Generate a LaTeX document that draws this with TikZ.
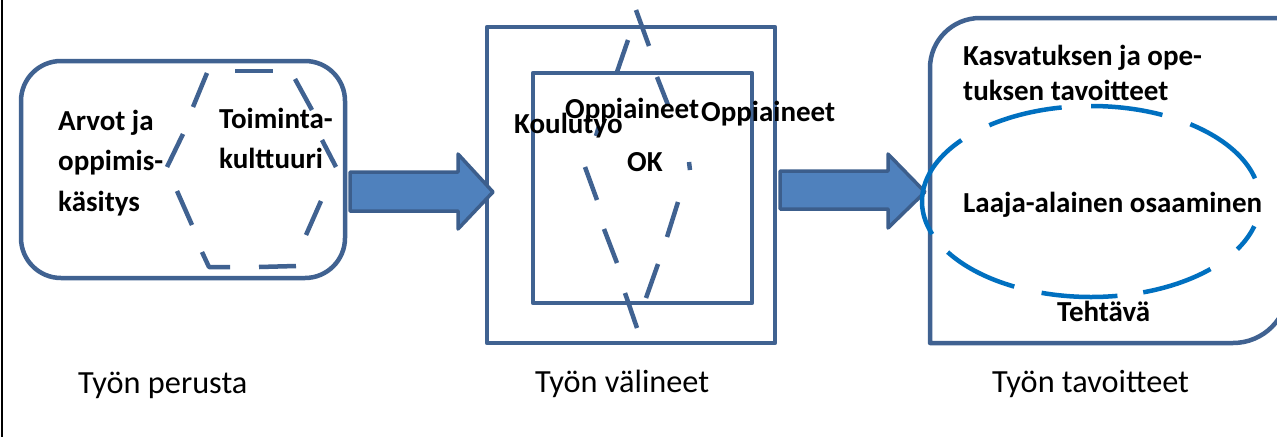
\documentclass[tikz,border=0pt]{standalone}
\usepackage{fontspec}
\setmainfont{Carlito}
\definecolor{boxblue}{RGB}{64,98,145}
\definecolor{arrowfill}{RGB}{79,129,189}
\definecolor{arrowline}{RGB}{60,94,140}
\definecolor{ellblue}{RGB}{0,112,192}
\tikzset{
  boxline/.style={draw=boxblue, line width=4.5pt, line join=round},
  dashseg/.style={draw=boxblue, line width=4.5pt, line cap=butt},
  ellseg/.style={draw=ellblue, line width=4.5pt, line cap=butt, samples=40, smooth},
  blockarrow/.style={fill=arrowfill, draw=arrowline, line width=3.5pt, line join=round},
  btext/.style={font=\fontsize{29}{34}\selectfont\bfseries, inner sep=0pt, anchor=base west},
  rtext/.style={font=\fontsize{32.3}{38}\selectfont, inner sep=0pt, anchor=base west}
}
\begin{document}
\begin{tikzpicture}[x=1pt,y=-1pt]
\useasboundingbox (0,0) rectangle (1277,437);
\fill[white] (0,0) rectangle (1277,437);
\draw[black, line width=2.5pt] (2,0) -- (2,437);

% left rounded box
\draw[boxline, rounded corners=40pt] (21,61) rectangle (345,278);
% hexagon dashes
\draw[dashseg] (207,73) -- (193,107);
\draw[dashseg] (183,134) -- (167,167);
\draw[dashseg] (177,191) -- (192,225);
\draw[dashseg, line join=round] (202,252) -- (209,267) -- (230,267);
\draw[dashseg] (259,267) -- (296,266);
\draw[dashseg] (306,235) -- (321,201);
\draw[dashseg] (336,167) -- (322,140);
\draw[dashseg] (312,110) -- (295,79);
\draw[dashseg] (235,71) -- (273,71);

% middle boxes
\draw[boxline] (487,27) rectangle (775,343);
\draw[boxline] (533,73) rectangle (752,303);
% diamond dashes
\draw[dashseg] (636,10) -- (649,46);
\draw[dashseg] (628,40) -- (617,72);
\draw[dashseg] (657,77) -- (668,105);
\draw[dashseg] (599,126) -- (596,136);
\draw[dashseg] (585,167) -- (597,200);
\draw[dashseg] (604,229) -- (617,263);
\draw[dashseg] (625,293) -- (637,328);
\draw[dashseg] (689,162) -- (690,170);
\draw[dashseg] (678,202) -- (667,237);
\draw[dashseg] (658,264) -- (646,298);

% right box (rounded diagonal corners)
\draw[boxline] (930,343) -- (930,68) .. controls (930,40.4) and (952.4,18) .. (980,18)
  -- (1288,18) -- (1288,288) .. controls (1288,318.4) and (1263.4,343) .. (1233,343) -- cycle;

% block arrows
\draw[blockarrow] (350,172) -- (458,172) -- (458,154) -- (493,192) -- (458,229) -- (458,211) -- (350,211) -- cycle;
\draw[blockarrow] (780,171) -- (888,171) -- (888,154) -- (925,192) -- (888,228) -- (888,209) -- (780,209) -- cycle;

% dashed ellipse
\foreach \a/\b in {100/127, 65/90, 14/54, -30/-15, -72/-45, -107/-81, -148/-117, 140/200}{
  \draw[ellseg, domain=\a:\b, variable=\t] plot ({1091+169*cos(\t)}, {201.5-95.5*sin(\t)});
}

% texts
\node[btext] (arvot1) at (58,130) {Arvot ja};
\node[btext] (arvot2) at (58,170) {oppimis-};
\node[btext] (arvot3) at (58,211) {käsitys};
\node[btext] (toim1) at (219,128) {Toiminta-};
\node[btext] (toim2) at (219,168) {kulttuuri};
\node[btext] (koulu) at (514,133) {Koulutyo};
\node[btext] (oppi1) at (565,118) {Oppiaineet};
\node[btext] (oppi2) at (701,121) {Oppiaineet};
\node[btext] (ok) at (627,171) {OK};
\node[btext] (kasv1) at (963,65) {Kasvatuksen ja ope-};
\node[btext] (kasv2) at (963,100) {tuksen tavoitteet};
\node[btext] (laaja) at (963,212) {Laaja-alainen osaaminen};
\node[btext] (teht) at (1057,321) {Tehtävä};
\node[rtext] (perusta) at (78,393) {Työn perusta};
\node[rtext] (valineet) at (535,392) {Työn välineet};
\node[rtext] (tavoitteet) at (992,392) {Työn tavoitteet};
\end{tikzpicture}
\end{document}
